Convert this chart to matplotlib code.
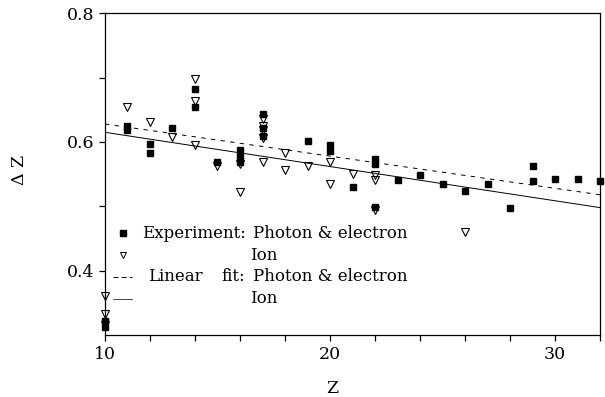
import matplotlib
matplotlib.use("Agg")
from matplotlib import pyplot as plt
from matplotlib.lines import Line2D

# Experiment: photon & electron (filled squares)
pe_z = [10, 10, 11, 11, 12, 12, 13, 14, 14, 15, 16, 16, 16, 17, 17, 17,
        19, 20, 20, 21, 22, 22, 22, 23, 24, 25, 26, 27, 28, 29, 29, 30, 31, 32]
pe_dz = [0.322, 0.312, 0.625, 0.618, 0.597, 0.583, 0.621, 0.683, 0.655, 0.569,
         0.587, 0.578, 0.569, 0.643, 0.622, 0.610, 0.602, 0.596, 0.586, 0.530,
         0.573, 0.565, 0.499, 0.541, 0.548, 0.534, 0.524, 0.535, 0.498, 0.563,
         0.539, 0.543, 0.542, 0.539]

# Experiment: ion (open triangles)
ion_z = [10, 10, 10, 11, 12, 13, 14, 14, 14, 15, 16, 16, 17, 17, 17, 17, 17,
         18, 18, 19, 20, 20, 21, 22, 22, 22, 26]
ion_dz = [0.360, 0.333, 0.316, 0.655, 0.631, 0.608, 0.698, 0.663, 0.596, 0.563,
          0.566, 0.522, 0.635, 0.625, 0.618, 0.606, 0.569, 0.583, 0.556, 0.563,
          0.569, 0.534, 0.551, 0.549, 0.541, 0.495, 0.460]

# Linear fits (end points)
fit_z = [10, 32]
fit_pe = [0.628, 0.518]
fit_ion = [0.615, 0.498]

plt.rcParams['font.family'] = 'DejaVu Serif'

fig = plt.figure(figsize=(6.05, 3.97), dpi=100)
ax = fig.add_axes([105 / 605, 1 - 335 / 397, 495 / 605, 321.7 / 397])

ax.plot(fit_z, fit_pe, color='black', lw=0.7, dashes=(4.5, 5.5))
ax.plot(fit_z, fit_ion, color='black', lw=0.7)
ax.plot(pe_z, pe_dz, 's', color='black', ms=5, clip_on=False, zorder=3)
ax.plot(ion_z, ion_dz, 'v', mfc='none', mec='black', mew=0.8, ms=5.5,
        clip_on=False, zorder=4)

ax.set_xlim(10, 32)
ax.set_ylim(0.3, 0.8)
ax.set_xticks([10, 20, 30])
ax.set_xticks([12, 14, 16, 18, 22, 24, 26, 28, 32], minor=True)
ax.set_yticks([0.4, 0.6, 0.8])
ax.set_yticks([0.5, 0.7], minor=True)
ax.set_yticklabels(['0.4', '0.6', '0.8'])
ax.tick_params(which='both', direction='out', length=4.5, width=0.9,
               labelsize=12.5, pad=3.5)
for s in ax.spines.values():
    s.set_linewidth(0.9)

ax.set_xlabel('Z', fontsize=12.5)
ax.xaxis.set_label_coords(0.459, -0.14)
ax.set_ylabel('\u0394 Z', fontsize=12.5)
ax.yaxis.set_label_coords(-0.156, 0.513)

# legend keys
handles = [
    Line2D([], [], ls='none', marker='s', color='black', ms=4),
    Line2D([], [], ls='none', marker='v', mfc='none', mec='black', mew=0.7, ms=5),
    Line2D([], [], color='black', lw=0.7, dashes=(5, 3.5)),
    Line2D([], [], color='black', lw=0.5),
]
ax.legend(handles, ['', '', '', ''], loc='upper left',
          bbox_to_anchor=(8 / 495, 0.3407), frameon=False, fontsize=12,
          borderpad=0, borderaxespad=0, handletextpad=0, handlelength=1.14,
          labelspacing=0.3)

# legend texts
rows = [0.3149, 0.2477, 0.1803, 0.1128]
kw = dict(transform=ax.transAxes, fontsize=12, va='center', ha='left')
ax.text(0.0741, rows[0], 'Experiment:', **kw)
ax.text(0.299, rows[0], 'Photon & electron', **kw)
ax.text(0.293, rows[1], 'Ion', **kw)
ax.text(0.0863, rows[2], 'Linear', **kw)
ax.text(0.2828, rows[2], 'fit:', transform=ax.transAxes, fontsize=12,
        va='center', ha='right')
ax.text(0.299, rows[2], 'Photon & electron', **kw)
ax.text(0.293, rows[3], 'Ion', **kw)

fig.savefig('out.png', dpi=100)
